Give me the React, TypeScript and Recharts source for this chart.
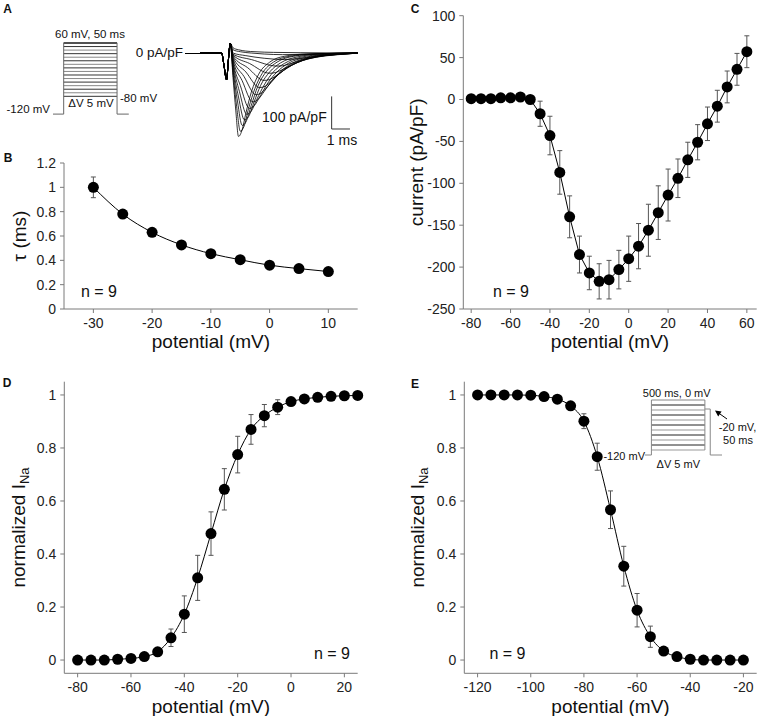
import React from 'react';
import { LineChart, Line, XAxis, YAxis, ErrorBar, ReferenceLine, Label } from 'recharts';

const FONT = '"Liberation Sans", Arial, Helvetica, sans-serif';
const INK = '#111';
const AXIS = '#7a7a7a';
const ERR = '#555';

// A: current traces (time in ms, current in pA/pF)
const artifact = [[0, 0], [1.18, 0], [1.3, -35], [1.45, -82], [1.55, -20], [1.65, 30]];
const sweeps = [
  [[1.8, -75], [1.95, -175], [2.1, -256], [2.3, -235], [2.5, -185], [2.8, -120], [3.2, -65], [3.8, -28], [4.6, -10], [5.8, -3], [8.6, 0]],
  [[1.8, -62], [2.0, -165], [2.2, -240], [2.4, -225], [2.65, -170], [3.0, -108], [3.4, -62], [4.0, -28], [4.9, -10], [6.2, -3], [8.6, 0]],
  [[1.8, -50], [2.05, -150], [2.3, -222], [2.5, -212], [2.8, -160], [3.15, -102], [3.6, -58], [4.2, -28], [5.1, -10], [6.4, -3], [8.6, 0]],
  [[1.8, -40], [2.1, -135], [2.42, -205], [2.65, -195], [2.95, -150], [3.3, -100], [3.8, -58], [4.4, -30], [5.3, -12], [6.6, -3], [8.6, 0]],
  [[1.8, -32], [2.15, -118], [2.55, -188], [2.8, -178], [3.1, -142], [3.5, -98], [4.0, -58], [4.6, -32], [5.5, -13], [6.8, -4], [8.6, 0]],
  [[1.8, -26], [2.2, -100], [2.7, -170], [2.95, -162], [3.3, -130], [3.7, -92], [4.2, -58], [4.8, -32], [5.7, -14], [7.0, -4], [8.6, 0]],
  [[1.8, -20], [2.3, -85], [2.88, -150], [3.15, -143], [3.5, -118], [3.9, -86], [4.4, -56], [5.0, -32], [5.9, -14], [7.2, -4], [8.6, 0]],
  [[1.8, -16], [2.4, -72], [3.05, -128], [3.35, -122], [3.7, -102], [4.1, -76], [4.6, -50], [5.2, -30], [6.1, -13], [7.4, -4], [8.6, 0]],
  [[1.8, -12], [2.5, -58], [3.25, -106], [3.55, -102], [3.9, -86], [4.3, -65], [4.8, -44], [5.4, -27], [6.3, -12], [7.6, -4], [8.6, 0]],
  [[1.8, -9], [2.6, -45], [3.5, -84], [3.8, -81], [4.15, -70], [4.55, -54], [5.0, -38], [5.6, -23], [6.5, -11], [7.8, -3], [8.6, 0]],
  [[1.8, -6], [2.7, -32], [3.8, -62], [4.1, -60], [4.45, -52], [4.85, -41], [5.3, -29], [5.9, -18], [6.8, -9], [8.0, -3], [8.6, 0]],
  [[1.8, -4], [2.8, -20], [4.2, -40], [4.5, -39], [4.85, -34], [5.25, -27], [5.7, -19], [6.3, -12], [7.1, -6], [8.2, -2], [8.6, 0]],
  [[1.8, 0], [2.5, -8], [3.5, -16], [4.6, -20], [5.4, -17], [6.2, -11], [7.0, -6], [8.0, -2], [8.6, 0]],
  [[1.8, 10], [2.2, 4], [2.8, 0], [3.5, -3], [4.5, -5], [5.5, -4], [6.5, -2], [8.6, 0]],
  [[1.8, 16], [2.1, 10], [2.5, 6], [3.0, 4], [4.0, 2], [5.5, 1], [8.6, 0]],
];
const scaleBar = [[7.18, -133], [7.18, -233], [8.18, -233]];

// A: activation protocol (schematic, holding level drawn compressed)
const actTimes = [0, 10, 60, 71];
const actSteps = [60, 55, 50, 45, 40, 35, 30, 25, 20, 15, 10, 5, 0, -5, -10, -15];
const actHoldDrawn = -40;

// B: inactivation time constant
const tauPotential = [-30, -25, -20, -15, -10, -5, 0, 5, 10];
const tauMs = [1.0, 0.78, 0.63, 0.527, 0.455, 0.405, 0.36, 0.332, 0.308];
const tauSem = [0.085, 0.02, 0.015, 0.015, 0.012, 0.012, 0.01, 0.01, 0.01];
const tauXTicks = [-30, -20, -10, 0, 10];
const tauYTicks = [0, 0.2, 0.4, 0.6, 0.8, 1, 1.2];

// C: current-voltage relation
const ivPotential = [-80, -75, -70, -65, -60, -55, -50, -45, -40, -35, -30, -25, -20, -15, -10, -5, 0, 5, 10, 15, 20, 25, 30, 35, 40, 45, 50, 55, 60];
const ivCurrent = [1, 1, 1, 2, 2, 3, 0, -17, -43, -87, -140, -185, -207, -217, -215, -203, -190, -175, -156, -135, -114, -94, -72, -51, -29, -8, 15, 36, 57];
const ivSem = [0, 0, 0, 0, 0, 1, 2, 15, 23, 26, 25, 22, 20, 21, 23, 23, 27, 27, 31, 32, 31, 23, 21, 21, 20, 19, 19, 19, 19];
const ivXTicks = [-80, -60, -40, -20, 0, 20, 40, 60];
const ivYTicks = [-250, -200, -150, -100, -50, 0, 50, 100];

// D: activation
const actPotential = [-80, -75, -70, -65, -60, -55, -50, -45, -40, -35, -30, -25, -20, -15, -10, -5, 0, 5, 10, 15, 20, 25];
const actNorm = [0, 0, 0, 0.003, 0.006, 0.013, 0.031, 0.084, 0.173, 0.31, 0.477, 0.644, 0.775, 0.87, 0.922, 0.954, 0.975, 0.985, 0.991, 0.995, 0.997, 0.998];
const actSem = [0, 0, 0, 0, 0, 0.005, 0.01, 0.033, 0.069, 0.085, 0.082, 0.078, 0.069, 0.056, 0.042, 0.028, 0.01, 0.005, 0, 0, 0, 0];
const actXTicks = [-80, -60, -40, -20, 0, 20];

// E: steady-state inactivation
const inactPotential = [-120, -115, -110, -105, -100, -95, -90, -85, -80, -75, -70, -65, -60, -55, -50, -45, -40, -35, -30, -25, -20];
const inactNorm = [1, 1, 1, 1, 0.999, 0.994, 0.984, 0.959, 0.901, 0.767, 0.567, 0.354, 0.188, 0.088, 0.034, 0.013, 0.003, 0, 0, 0, 0];
const inactSem = [0, 0, 0, 0, 0, 0, 0.005, 0.01, 0.028, 0.051, 0.071, 0.075, 0.063, 0.04, 0.01, 0.005, 0, 0, 0, 0, 0];
const inactXTicks = [-120, -100, -80, -60, -40, -20];
const normYTicks = [0, 0.2, 0.4, 0.6, 0.8, 1];

// E inset: inactivation protocol (schematic, drawn units)
const inactTimes = [0, 60, 560, 610, 720];
const inactSteps = [-5, -10, -15, -20, -25, -30, -35, -40, -45, -50];
const inactTestDrawn = -9;
const inactHoldDrawn = -55;

const rows = (xs: number[], ys: number[], es: number[]) =>
  xs.map((x, k) => ({ x, y: ys[k], sem: es[k] }));
const pairs = (pts: number[][]) => pts.map(([t, v]) => ({ t, v }));

const tickStyle = { fontSize: 14, fill: '#222', fontFamily: FONT };

function xTitle(cx: number, cy: number) {
  return () => (
    <text x={cx} y={cy} textAnchor="middle" dominantBaseline="central" fontSize={19} fill={INK} fontFamily={FONT}>
      potential (mV)
    </text>
  );
}

function yTitle(cx: number, cy: number, main: string, sub?: string) {
  return () => (
    <text
      x={cx}
      y={cy}
      transform={`rotate(-90 ${cx} ${cy})`}
      textAnchor="middle"
      dominantBaseline="central"
      fontSize={19}
      fill={INK}
      fontFamily={FONT}
    >
      <tspan>{main}</tspan>
      {sub && (
        <tspan dy={6} fontSize={13}>
          {sub}
        </tspan>
      )}
    </text>
  );
}

interface PanelProps {
  left: number;
  top: number;
  width: number;
  height: number;
  margin: { top: number; right: number; bottom: number; left: number };
  yWidth: number;
  xHeight: number;
  data: { x: number; y: number; sem: number }[];
  xDomain: [number, number];
  xTicks: number[];
  yDomain: [number, number];
  yTicks: number[];
  curve: 'monotone' | 'linear';
  yLabel: () => React.ReactElement;
  xLabel: () => React.ReactElement;
}

function CurvePanel(p: PanelProps) {
  return (
    <div style={{ position: 'absolute', left: p.left, top: p.top }}>
      <LineChart width={p.width} height={p.height} data={p.data} margin={p.margin}>
        <XAxis
          type="number"
          dataKey="x"
          domain={p.xDomain}
          ticks={p.xTicks}
          interval={0}
          height={p.xHeight}
          stroke={AXIS}
          tick={tickStyle}
          tickSize={4}
          tickMargin={5}
        >
          <Label content={p.xLabel} />
        </XAxis>
        <YAxis
          type="number"
          domain={p.yDomain}
          ticks={p.yTicks}
          interval={0}
          width={p.yWidth}
          stroke={AXIS}
          tick={tickStyle}
          tickSize={4}
          tickMargin={4}
        >
          <Label content={p.yLabel} />
        </YAxis>
        <Line
          dataKey="y"
          type={p.curve}
          stroke="#000"
          strokeWidth={1}
          dot={{ r: 5.5, fill: '#000', strokeWidth: 0 }}
          activeDot={false}
          isAnimationActive={false}
        >
          <ErrorBar dataKey="sem" direction="y" width={2.5} stroke={ERR} strokeWidth={1} isAnimationActive={false} />
        </Line>
      </LineChart>
    </div>
  );
}

function Note({
  x,
  y,
  size = 11.5,
  align = 'center',
  bold = false,
  children,
}: {
  x: number;
  y: number;
  size?: number;
  align?: 'left' | 'center' | 'right';
  bold?: boolean;
  children: React.ReactNode;
}) {
  const tx = align === 'center' ? '-50%' : align === 'right' ? '-100%' : '0';
  return (
    <div
      style={{
        position: 'absolute',
        left: x,
        top: y,
        transform: `translate(${tx}, -50%)`,
        fontSize: size,
        lineHeight: 1,
        whiteSpace: 'nowrap',
        fontWeight: bold ? 700 : 400,
        color: INK,
      }}
    >
      {children}
    </div>
  );
}

export default function App() {
  const sweepRows = sweeps.map((s) => pairs([...artifact, ...s]));
  const actOutline = pairs([
    [actTimes[0], actHoldDrawn],
    [actTimes[1], actHoldDrawn],
    [actTimes[1], actSteps[0]],
    [actTimes[2], actSteps[0]],
    [actTimes[2], actHoldDrawn],
    [actTimes[3], actHoldDrawn],
  ]);
  const inactOutline = pairs([
    [inactTimes[0], inactHoldDrawn],
    [inactTimes[1], inactHoldDrawn],
    [inactTimes[1], 0],
    [inactTimes[2], 0],
    [inactTimes[2], inactSteps[inactSteps.length - 1]],
  ]);
  const inactTest = pairs([
    [inactTimes[2], inactTestDrawn],
    [inactTimes[3], inactTestDrawn],
    [inactTimes[3], inactHoldDrawn],
    [inactTimes[4], inactHoldDrawn],
  ]);

  return (
    <div
      style={{
        position: 'absolute',
        left: 0,
        top: 0,
        width: 758,
        height: 716,
        background: '#fff',
        fontFamily: FONT,
        overflow: 'hidden',
      }}
    >
      {/* A: protocol */}
      <div style={{ position: 'absolute', left: 49.6, top: 39.7 }}>
        <LineChart width={81.8} height={77.1} margin={{ top: 3, right: 3, bottom: 3, left: 3 }}>
          <XAxis type="number" dataKey="t" domain={[0, 71]} hide height={0} />
          <YAxis type="number" domain={[-40, 60]} hide width={0} />
          {actSteps.map((v, k) => (
            <ReferenceLine
              key={k}
              segment={[
                { x: actTimes[1], y: v },
                { x: actTimes[2], y: v },
              ]}
              stroke={k === 0 ? '#000' : k % 2 ? '#333' : '#888'}
              strokeWidth={k === 0 ? 1.4 : 1}
            />
          ))}
          <Line data={actOutline} dataKey="v" type="linear" stroke="#666" strokeWidth={1} dot={false} activeDot={false} isAnimationActive={false} />
        </LineChart>
      </div>

      {/* A: traces */}
      <div style={{ position: 'absolute', left: 196, top: 36.26 }}>
        <LineChart width={165.7} height={109.06} margin={{ top: 4, right: 4, bottom: 4, left: 4 }}>
          <XAxis type="number" dataKey="t" domain={[0, 8.6]} hide height={0} />
          <YAxis type="number" domain={[-270, 40]} hide width={0} />
          {sweepRows.map((d, k) => (
            <Line key={k} data={d} dataKey="v" type="monotone" stroke="#000" strokeWidth={0.8} dot={false} activeDot={false} isAnimationActive={false} />
          ))}
          <Line data={pairs(scaleBar)} dataKey="v" type="linear" stroke="#333" strokeWidth={1} dot={false} activeDot={false} isAnimationActive={false} />
        </LineChart>
      </div>
      <div style={{ position: 'absolute', left: 185, top: 52.8, width: 15, height: 1, background: '#000' }} />

      {/* B */}
      <CurvePanel
        left={0}
        top={150}
        width={370}
        height={212}
        margin={{ top: 13, right: 12.3, bottom: 12, left: 10 }}
        yWidth={54}
        xHeight={41}
        data={rows(tauPotential, tauMs, tauSem)}
        xDomain={[-35, 15]}
        xTicks={tauXTicks}
        yDomain={[0, 1.2]}
        yTicks={tauYTicks}
        curve="monotone"
        yLabel={yTitle(19, 86, 'τ (ms)')}
        xLabel={xTitle(210.9, 191.5)}
      />

      {/* C */}
      <CurvePanel
        left={380}
        top={0}
        width={378}
        height={362}
        margin={{ top: 15.7, right: 1.3, bottom: 12, left: 0 }}
        yWidth={83.3}
        xHeight={41}
        data={rows(ivPotential, ivCurrent, ivSem)}
        xDomain={[-84, 65]}
        xTicks={ivXTicks}
        yDomain={[-250, 100]}
        yTicks={ivYTicks}
        curve="linear"
        yLabel={yTitle(36, 162.3, 'current (pA/pF)')}
        xLabel={xTitle(230, 341.5)}
      />

      {/* D */}
      <CurvePanel
        left={0}
        top={370}
        width={370}
        height={346}
        margin={{ top: 11.7, right: 12.3, bottom: 0, left: 10 }}
        yWidth={54.3}
        xHeight={42.7}
        data={rows(actPotential, actNorm, actSem)}
        xDomain={[-85, 25]}
        xTicks={actXTicks}
        yDomain={[-0.05, 1.05]}
        yTicks={normYTicks}
        curve="monotone"
        yLabel={yTitle(18, 157.5, 'normalized I', 'Na')}
        xLabel={xTitle(210.9, 336.5)}
      />

      {/* E */}
      <CurvePanel
        left={380}
        top={370}
        width={378}
        height={346}
        margin={{ top: 11.7, right: 1.3, bottom: 0, left: 0 }}
        yWidth={84.3}
        xHeight={42.7}
        data={rows(inactPotential, inactNorm, inactSem)}
        xDomain={[-125, -15]}
        xTicks={inactXTicks}
        yDomain={[-0.05, 1.05]}
        yTicks={normYTicks}
        curve="monotone"
        yLabel={yTitle(36.7, 157.5, 'normalized I', 'Na')}
        xLabel={xTitle(230.5, 336.5)}
      />

      {/* E inset: protocol */}
      <div style={{ position: 'absolute', left: 642, top: 397 }}>
        <LineChart width={83} height={62} margin={{ top: 3, right: 3, bottom: 3, left: 3 }}>
          <XAxis type="number" dataKey="t" domain={[0, 720]} hide height={0} />
          <YAxis type="number" domain={[-56, 0]} hide width={0} />
          {inactSteps.map((v, k) => (
            <ReferenceLine
              key={k}
              segment={[
                { x: inactTimes[1], y: v },
                { x: inactTimes[2], y: v },
              ]}
              stroke={k % 2 ? '#999' : '#222'}
              strokeWidth={1}
            />
          ))}
          <Line data={inactOutline} dataKey="v" type="linear" stroke="#888" strokeWidth={1} dot={false} activeDot={false} isAnimationActive={false} />
          <Line data={inactTest} dataKey="v" type="linear" stroke="#888" strokeWidth={1} dot={false} activeDot={false} isAnimationActive={false} />
        </LineChart>
      </div>
      <svg style={{ position: 'absolute', left: 710, top: 405 }} width={22} height={18}>
        <line x1={17} y1={14} x2={8} y2={7.6} stroke="#000" strokeWidth={1} />
        <polygon points="5,5.5 11.6,6.6 8.2,11.4" fill="#000" />
      </svg>

      {/* annotations */}
      <Note x={7.5} y={9} size={12} bold>A</Note>
      <Note x={8} y={158} size={12} bold>B</Note>
      <Note x={415} y={8.5} size={12} bold>C</Note>
      <Note x={7} y={383} size={12} bold>D</Note>
      <Note x={415} y={384} size={12} bold>E</Note>

      <Note x={90} y={35}>60 mV, 50 ms</Note>
      <Note x={50} y={110} align="right">-120 mV</Note>
      <Note x={120} y={99} align="left">-80 mV</Note>
      <Note x={91} y={104}>ΔV 5 mV</Note>
      <Note x={183} y={53.3} size={13.5} align="right">0 pA/pF</Note>
      <Note x={326.7} y={116.5} size={14} align="right">100 pA/pF</Note>
      <Note x={342} y={140} size={14}>1 ms</Note>

      <Note x={676.7} y={393} size={11}>500 ms, 0 mV</Note>
      <Note x={645} y={455.7} size={11} align="right">-120 mV</Note>
      <Note x={678.3} y={464} size={11}>ΔV 5 mV</Note>
      <Note x={737.5} y={427} size={11}>-20 mV,</Note>
      <Note x={738} y={439.5} size={11}>50 ms</Note>

      <Note x={99} y={291.7} size={16}>n = 9</Note>
      <Note x={511} y={291.7} size={16}>n = 9</Note>
      <Note x={332} y={654} size={16}>n = 9</Note>
      <Note x={507.5} y={654} size={16}>n = 9</Note>
    </div>
  );
}
